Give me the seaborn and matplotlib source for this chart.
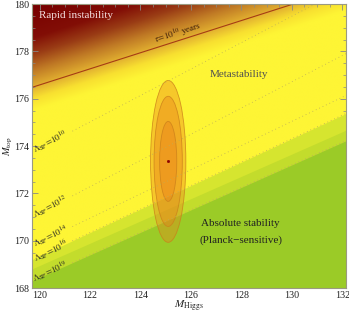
import numpy as np
import pandas as pd
import seaborn as sns
import matplotlib.pyplot as plt
from matplotlib.colors import LinearSegmentedColormap
from matplotlib.patches import Ellipse

# limites dos eixos
mh_lim = [119.7, 132.15]
mt_lim = [168.0, 180.0]

# linha tau = 10^10 anos: M_top em M_Higgs = 120 e 132
tau_mt_120 = 176.58
tau_mt_132 = 180.66

# linhas de Lambda_SP: M_top em M_Higgs = 120 e 132
lam_expo = ['10', '12', '14', '16', '19']
lam_mt_120 = [173.90, 171.17, 169.93, 169.35, 168.45]
lam_mt_132 = [180.60, 177.82, 176.06, 175.30, 174.15]

# faixas de estabilidade (verde), de cima para baixo
faixa_mt_120 = [169.35, 168.95, 168.45]
faixa_mt_132 = [175.30, 174.60, 174.15]
faixa_cores = ['#d6e52f', '#c3dc2c', '#9bcb27']

# elipses de confiança (99%, 95%, 68%)
mh_centro, mt_centro = 125.1, 173.35
elipse_mh = [0.70, 0.56, 0.34]
elipse_mt = [3.42, 2.75, 1.69]


def reta(m120, m132, x):
    return m120 + (m132 - m120) * (np.asarray(x) - 120.0) / 12.0


sns.set_theme(style='ticks')
plt.rcParams['font.family'] = ['Liberation Serif', 'DejaVu Serif']
plt.rcParams['mathtext.fontset'] = 'stix'

fig = plt.figure(figsize=(3.49, 3.16), dpi=100)
ax = fig.add_axes([32 / 349, 1 - 288 / 316, 314 / 349, 284 / 316])

# fundo: gradiente da instabilidade a partir da linha tau
xx, yy = np.meshgrid(np.linspace(*mh_lim, 400), np.linspace(*mt_lim, 400))
f = yy - reta(tau_mt_120, tau_mt_132, xx)
nos = [(-1.0, '#fef535'), (-0.5, '#f8e030'), (0.0, '#e2b030'), (0.7, '#c07a25'),
       (1.4, '#9a3c15'), (2.1, '#820e06'), (3.5, '#780000')]
cmap = LinearSegmentedColormap.from_list(
    'inst', [((v + 1.0) / 4.5, c) for v, c in nos])
ax.imshow(f, extent=mh_lim + mt_lim, origin='lower', aspect='auto',
          cmap=cmap, vmin=-1.0, vmax=3.5, interpolation='bilinear')

# faixas verdes
xs = np.linspace(*mh_lim, 50)
for m120, m132, cor in zip(faixa_mt_120, faixa_mt_132, faixa_cores):
    ax.fill_between(xs, mt_lim[0], reta(m120, m132, xs), color=cor, lw=0)

# linha tau
sns.lineplot(x=xs, y=reta(tau_mt_120, tau_mt_132, xs), ax=ax,
             color='#a63c14', lw=0.8)
ang_tau = np.degrees(np.arctan((tau_mt_132 - tau_mt_120) / 12))
ax.text(125.5, 178.72, r'$\tau\!=\!10^{10}$ years', fontsize=6.5,
        color='#3a1a08', ha='center', va='center', rotation=ang_tau,
        rotation_mode='anchor', transform_rotates_text=True)

# linhas de Lambda_SP
xs2 = np.linspace(121.3, mh_lim[1], 50)
for expo, m120, m132 in zip(lam_expo, lam_mt_120, lam_mt_132):
    sns.lineplot(x=xs2, y=reta(m120, m132, xs2), ax=ax, color='#bcae5a',
                 lw=0.6, linestyle=(0, (1, 3.5)))
    ang = np.degrees(np.arctan((m132 - m120) / 12))
    ax.text(120.45, reta(m120, m132, 120.45),
            r'$\Lambda_{\rm SP}\!=\!10^{%s}$' % expo, fontsize=6.5,
            color='#222222', ha='center', va='center', rotation=ang,
            rotation_mode='anchor', transform_rotates_text=True)

# elipses
for a, b in zip(elipse_mh, elipse_mt):
    ax.add_patch(Ellipse((mh_centro, mt_centro), 2 * a, 2 * b,
                         facecolor=(0.92, 0.5, 0.1, 0.38),
                         edgecolor=(0.8, 0.5, 0.1, 0.8), lw=0.6))
sns.scatterplot(x=[mh_centro], y=[mt_centro], ax=ax, color='#8b0000',
                s=4, edgecolor=None)

# textos das regiões
ax.text(121.45, 179.53, 'Rapid instability', fontsize=8, color='#f3dede',
        ha='center', va='center')
ax.text(127.92, 177.03, 'Metastability', fontsize=8, color='#505050',
        ha='center', va='center')
ax.text(127.96, 170.72, 'Absolute stability', fontsize=8, color='#222222',
        ha='center', va='center')
ax.text(127.98, 170.0, '(Planck\u2212sensitive)', fontsize=8,
        color='#222222', ha='center', va='center')

ax.set_xlim(mh_lim)
ax.set_ylim(mt_lim)
ax.set_xticks(np.arange(120, 133, 2))
ax.set_yticks(np.arange(168, 181, 2))
ax.set_xticks(np.arange(120, 132.1, 0.5), minor=True)
ax.set_yticks(np.arange(168, 180.1, 0.5), minor=True)
ax.tick_params(which='both', direction='in', top=True, right=True,
               color='#888888', labelsize=7.2, labelcolor='#222222', pad=2)
ax.tick_params(which='major', length=4, width=0.6)
ax.tick_params(which='minor', length=2, width=0.5)
for s in ax.spines.values():
    s.set_color('#9a9a80')
    s.set_linewidth(0.8)
ax.set_xlabel(r'$M_{\rm Higgs}$', fontsize=8, color='#222222')
ax.set_ylabel(r'$M_{\rm top}$', fontsize=7.5, color='#222222')
ax.xaxis.set_label_coords(0.5, -0.04)
ax.yaxis.set_label_coords(-0.054, 0.5)

fig.savefig('out.png', dpi=100)
